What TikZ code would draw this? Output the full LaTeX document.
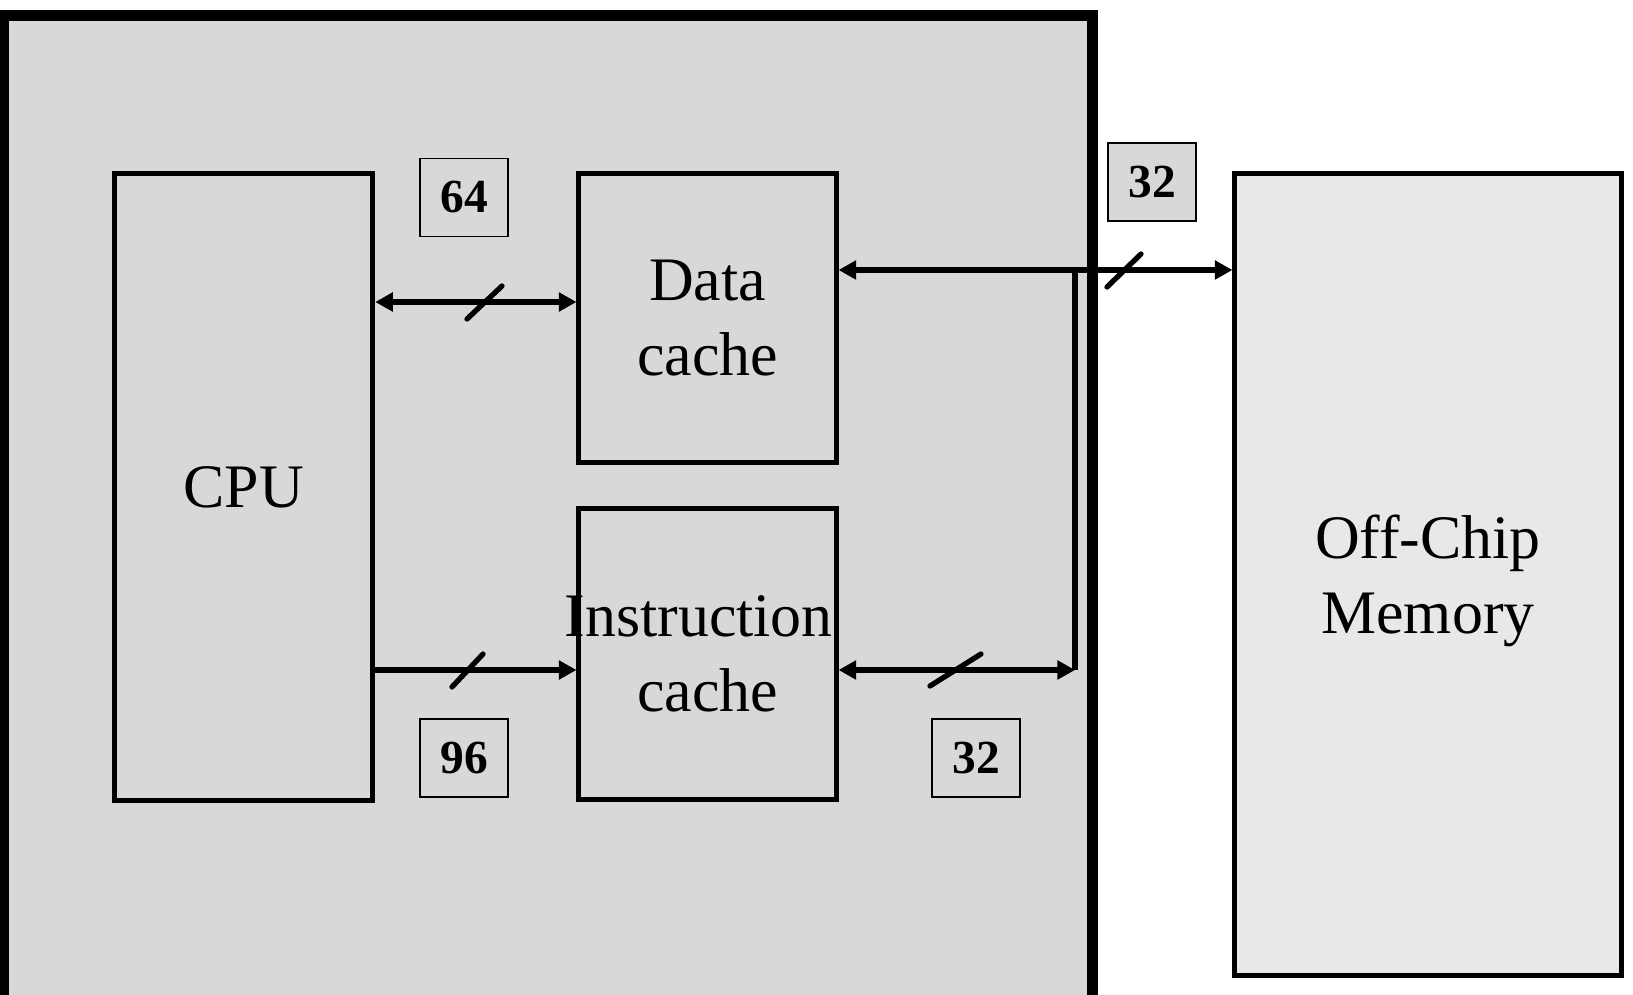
\documentclass[tikz,border=0pt]{standalone}
\usepackage{fontspec}
\setmainfont{Liberation Serif}
\usetikzlibrary{arrows.meta}
\definecolor{chipgray}{HTML}{D8D8D8}
\definecolor{memgray}{HTML}{E8E8E8}
\tikzset{
  chipbox/.style={draw, line width=3.1pt, fill=chipgray, inner sep=0pt},
  blk/.style={draw, line width=1.4pt, fill=chipgray, inner sep=0pt, align=center,
              font=\fontsize{17.6}{21.3}\selectfont},
  membox/.style={blk, fill=memgray, text depth=0pt},
  wlabel/.style={draw, line width=0.5pt, fill=chipgray, minimum width=0.88cm,
                 minimum height=0.78cm, inner sep=0pt,
                 font=\bfseries\fontsize{13.5}{16}\selectfont},
  bus/.style={line width=1.6pt},
  busslash/.style={line width=1.5pt, line cap=round},
  >={Triangle[length=5pt,width=5.2pt]}
}
\begin{document}
\begin{tikzpicture}[x=0.01cm,y=-0.01cm]
\useasboundingbox (0,0) rectangle (1633,995);
\fill[white] (0,0) rectangle (1633,995);
% chip
\node[chipbox, minimum width=10.88cm, minimum height=9.94cm] (chip) at (548,513) {};
% blocks
\node[blk, minimum width=2.58cm, minimum height=6.26cm] (cpu) at (243.7,487) {CPU};
\node[blk, minimum width=2.57cm, minimum height=2.88cm] (dcache) at (707.5,318) {Data\\cache};
\node[blk, minimum width=2.57cm, minimum height=2.90cm] (icache) at (707.5,654)
  {\makebox[0pt]{Instruction\hspace{5pt}}\\cache};
\node[membox, minimum width=3.86cm, minimum height=8.01cm] (mem) at (1428,574.5) {Off-Chip\\Memory};
% width labels
\node[wlabel] (w64) at (464,197.5) {64};
\node[wlabel] (w96) at (464,758) {96};
\node[wlabel] (w32a) at (976,758) {32};
\node[wlabel] (w32b) at (1152,182) {32};
% bus rows
\coordinate (rowA) at (0,302);
\coordinate (rowB) at (0,670);
\coordinate (rowC) at (0,270);
\coordinate (j1) at (1075,270);
\coordinate (j2) at (1075,670);
% connectors
\draw[bus,<->] (cpu.east |- rowA) -- (dcache.west |- rowA);
\draw[bus,->] (cpu.east |- rowB) -- (icache.west |- rowB);
\draw[bus,<->] (icache.east |- rowB) -- (j2);
\draw[bus] (j1) -- (j2);
\draw[bus,<->] (dcache.east |- rowC) -- (mem.west |- rowC);
% bus-width slashes
\draw[busslash] (467,319) -- (502,286);
\draw[busslash] (452,687) -- (483,654);
\draw[busslash] (930,686) -- (981,654);
\draw[busslash] (1107,287) -- (1141,254);
\end{tikzpicture}
\end{document}
